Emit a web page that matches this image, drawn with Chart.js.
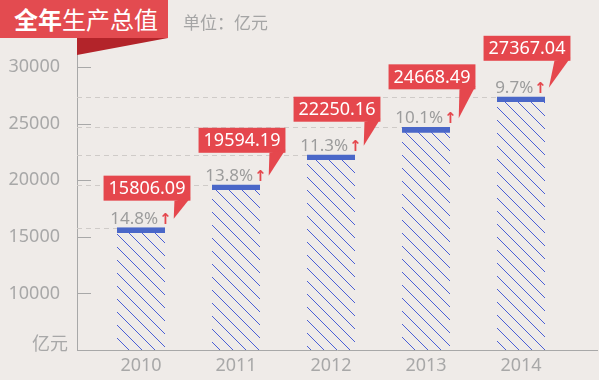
<!DOCTYPE html>
<html>
<head>
<meta charset="UTF-8">
<title>全年生产总值</title>
<script src="https://cdn.jsdelivr.net/npm/chart.js@4.4.0/dist/chart.umd.min.js"></script>
<style>
  html, body { margin: 0; padding: 0; background: #efebe8; }
  #wrap { position: relative; width: 599px; height: 380px; overflow: hidden; }
  #title { position: absolute; left: 0; top: 0; width: 154px; height: 38px; padding-left: 14px;
    background: #e34b50; color: #fff; font: 24px "Noto Sans CJK SC", sans-serif; line-height: 38px; }
  #title b { font-weight: bold; }
  #fold { position: absolute; left: 77px; top: 38px; width: 0; height: 0;
    border-top: 17px solid #b3242a; border-right: 91px solid transparent; }
  #unit { position: absolute; left: 183px; top: 10px; color: #a5a5a5;
    font: 17px "Noto Sans CJK SC", sans-serif; line-height: 24px; }
</style>
</head>
<body>
<div id="wrap">
  <canvas id="gdp" width="599" height="380"></canvas>
  <div id="title"><b>全年</b>生产总值</div>
  <div id="fold"></div>
  <div id="unit">单位：亿元</div>
</div>

<script>
  var years = ['2010', '2011', '2012', '2013', '2014'];
  var gdp = [15806.09, 19594.19, 22250.16, 24668.49, 27367.04];
  var growth = ['14.8%', '13.8%', '11.3%', '10.1%', '9.7%'];
  var yTicks = [10000, 15000, 20000, 25000, 30000];

  // how far each red callout sits above its bar
  var lift = [27, 32, 33, 38, 36];

  var grey = '#a8a8a8';
  var red = '#e5474d';
  var blue = '#4a67c8';

  // crisp one-pixel diagonal hatch
  function hatch() {
    var c = document.createElement('canvas');
    c.width = 13; c.height = 13;
    var g = c.getContext('2d');
    g.fillStyle = '#4a5fd6';
    for (var k = 0; k < 13; k++) g.fillRect(k, k, 1, 1);
    return g.createPattern(c, 'repeat');
  }

  var extras = {
    id: 'extras',
    beforeDatasetsDraw: function (chart) {
      var ctx = chart.ctx, y = chart.scales.y, area = chart.chartArea;
      var bars = chart.getDatasetMeta(0).data;
      ctx.save();
      // dashed guide from the axis to each bar top
      ctx.strokeStyle = '#cfcbc8';
      ctx.lineWidth = 1;
      ctx.setLineDash([5, 4]);
      bars.forEach(function (b) {
        var yy = Math.round(b.y) + 0.5;
        ctx.beginPath();
        ctx.moveTo(area.left, yy);
        ctx.lineTo(b.x - b.width / 2, yy);
        ctx.stroke();
      });
      ctx.setLineDash([]);
      // short tick marks inside the axis
      ctx.strokeStyle = grey;
      yTicks.forEach(function (v) {
        var yy = Math.round(y.getPixelForValue(v)) + 0.5;
        ctx.beginPath();
        ctx.moveTo(area.left, yy);
        ctx.lineTo(area.left + 14, yy);
        ctx.stroke();
      });
      // unit at the foot of the y axis
      ctx.fillStyle = grey;
      ctx.font = '18px "Noto Sans CJK SC", sans-serif';
      ctx.textAlign = 'right';
      ctx.textBaseline = 'middle';
      ctx.fillText('亿元', area.left - 9, area.bottom - 7);
      ctx.restore();
    },
    afterDatasetsDraw: function (chart) {
      var ctx = chart.ctx;
      var bars = chart.getDatasetMeta(0).data;
      ctx.save();
      bars.forEach(function (b, i) {
        var top = b.y;
        // growth rate and the little red arrow
        ctx.font = '17px "Noto Sans", sans-serif';
        var pw = ctx.measureText(growth[i]).width;
        ctx.font = 'bold 15px "DejaVu Sans", sans-serif';
        var aw = ctx.measureText('↑').width;
        var sx = b.x - (pw + 1 + aw) / 2;
        ctx.textBaseline = 'alphabetic';
        ctx.textAlign = 'left';
        ctx.fillStyle = '#9c9c9c';
        ctx.font = '17px "Noto Sans", sans-serif';
        ctx.fillText(growth[i], sx, top - 4);
        ctx.fillStyle = red;
        ctx.font = 'bold 15px "DejaVu Sans", sans-serif';
        ctx.fillText('↑', sx + pw + 1, top - 4);

        // red callout holding the value
        ctx.font = '18px "Noto Sans", sans-serif';
        var label = gdp[i].toFixed(2);
        var tw = ctx.measureText(label).width;
        var bw = tw + 10, bh = 25;
        var cx = b.x + 6;
        var bx = cx - bw / 2, by = top - lift[i] - bh;
        var tipX = sx + pw + 1 + aw + 2, tipY = top - 9;
        ctx.fillStyle = red;
        ctx.fillRect(bx, by, bw, bh);
        ctx.beginPath();
        ctx.moveTo(bx + bw - 16, by + bh);
        ctx.lineTo(bx + bw, by + bh - 3);
        ctx.lineTo(tipX, tipY);
        ctx.closePath();
        ctx.fill();
        ctx.fillStyle = '#fff';
        ctx.textAlign = 'center';
        ctx.textBaseline = 'middle';
        ctx.fillText(label, cx, by + bh / 2 + 1);
      });
      ctx.restore();
    }
  };

  new Chart(document.getElementById('gdp'), {
    type: 'bar',
    data: {
      datasets: [{
        data: gdp.map(function (v, i) { return { x: i, y: v }; }),
        backgroundColor: hatch(),
        borderColor: blue,
        borderWidth: { top: 5, left: 0, right: 0, bottom: 0 },
        borderSkipped: false,
        barThickness: 48
      }]
    },
    options: {
      responsive: false,
      animation: false,
      layout: { padding: { top: 50, right: 2, left: 0, bottom: 0 } },
      plugins: { legend: { display: false }, tooltip: { enabled: false } },
      scales: {
        x: {
          type: 'linear',
          offset: false,
          min: -0.6737,
          max: 4.8,
          grid: { display: false, offset: false },
          border: { display: true, color: grey, width: 1 },
          afterFit: function (s) { s.height = 30; },
          afterBuildTicks: function (s) {
            s.ticks = years.map(function (y, i) { return { value: i }; });
          },
          ticks: {
            autoSkip: false,
            maxRotation: 0,
            padding: -3,
            color: grey,
            font: { family: '"Noto Sans", sans-serif', size: 18 },
            callback: function (v) { return years[v]; }
          }
        },
        y: {
          type: 'linear',
          min: 5000,
          max: 31500,
          grid: { display: false },
          border: { display: true, color: grey, width: 1 },
          afterFit: function (s) { s.width = 77; },
          afterBuildTicks: function (s) {
            s.ticks = yTicks.map(function (v) { return { value: v }; });
          },
          ticks: {
            autoSkip: false,
            padding: 9,
            color: grey,
            font: { family: '"Noto Sans", sans-serif', size: 18 },
            callback: function (v) { return String(v); }
          }
        }
      }
    },
    plugins: [extras]
  });
</script>
</body>
</html>
